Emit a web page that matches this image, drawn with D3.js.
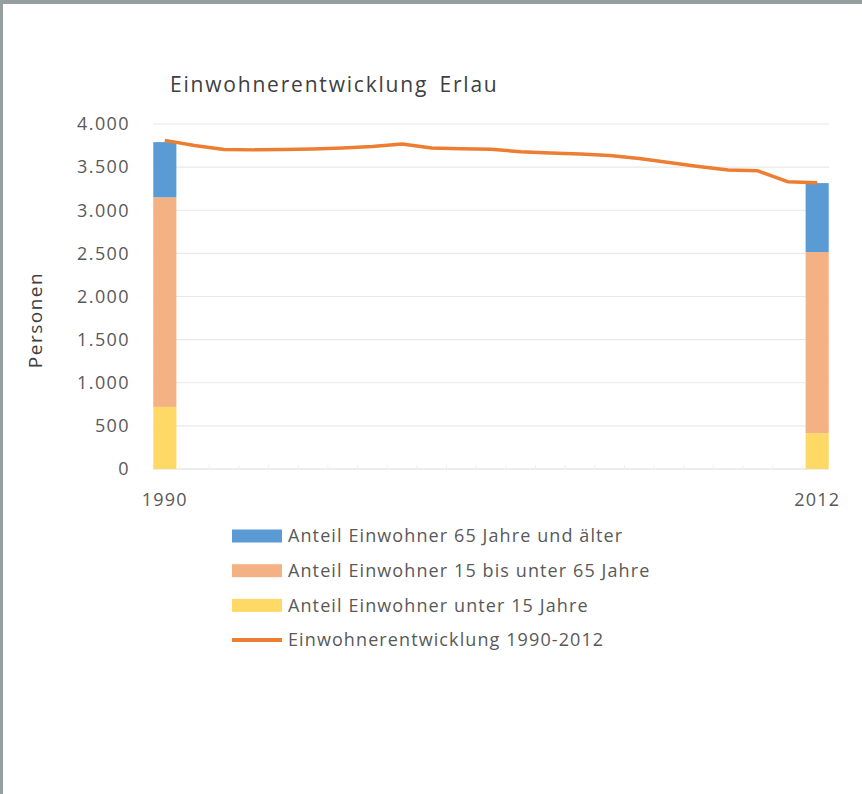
<!DOCTYPE html>
<html>
<head>
<meta charset="utf-8">
<script src="https://cdn.jsdelivr.net/npm/d3@7"></script>
<style>
  html, body { margin: 0; padding: 0; background: #fff; }
  svg text { font-family: "Open Sans", "Noto Sans", sans-serif; }
</style>
</head>
<body>
<script>
const WIDTH = 862;
const HEIGHT = 794;

// years on the category axis
var years = ["1990","1991","1992","1993","1994","1995","1996","1997","1998","1999","2000",
    "2001","2002","2003","2004","2005","2006","2007","2008","2009","2010","2011","2012"];

// total population per year (line)
var total = [3810, 3750, 3705, 3700, 3705, 3710, 3722, 3739, 3768, 3722, 3714,
    3708, 3678, 3664, 3652, 3635, 3600, 3554, 3507, 3467, 3457, 3331, 3320];

// age groups, only shown for first and last year
var barYears = ["1990", "2012"];
var under15 = [720, 415];
var from15to65 = [2430, 2100];
var over65 = [640, 800];

var yTicks = [0, 500, 1000, 1500, 2000, 2500, 3000, 3500, 4000];
var xLabels = ["1990", "2012"];

var seriesNames = [
    "Anteil Einwohner 65 Jahre und älter",
    "Anteil Einwohner 15 bis unter 65 Jahre",
    "Anteil Einwohner unter 15 Jahre",
    "Einwohnerentwicklung 1990-2012"
];
var colors = ["#5b9bd5", "#f4b183", "#ffd966", "#ed7d31"];

var de = d3.formatLocale({decimal: ",", thousands: ".", grouping: [3], currency: ["", " €"]});
var fmt = de.format(",");

var svg = d3.select("body").append("svg")
    .attr("width", WIDTH)
    .attr("height", HEIGHT);

// frame of the screenshot
svg.append("rect").attr("x", 0).attr("y", 0).attr("width", WIDTH).attr("height", 4).attr("fill", "#959f9f");
svg.append("rect").attr("x", 0).attr("y", 0).attr("width", 3).attr("height", HEIGHT).attr("fill", "#959f9f");

var x = d3.scaleBand()
    .domain(years)
    .range([150, 832])
    .paddingInner(0.22)
    .paddingOuter(0.11);

var y = d3.scaleLinear()
    .domain([0, 4000])
    .range([469, 124]);

// gridlines
svg.append("g")
    .selectAll("line")
    .data(yTicks)
    .join("line")
        .attr("x1", 153)
        .attr("x2", 829)
        .attr("y1", d => y(d))
        .attr("y2", d => y(d))
        .attr("stroke", d => d === 0 ? "#dcdcdc" : "#e8e8e8")
        .attr("stroke-width", 1.2);

// faint category ticks between bands
svg.append("g")
    .selectAll("line")
    .data(years.slice(1))
    .join("line")
        .attr("x1", d => x(d) - x.step() * x.paddingInner() / 2)
        .attr("x2", d => x(d) - x.step() * x.paddingInner() / 2)
        .attr("y1", y(0) - 4)
        .attr("y2", y(0))
        .attr("stroke", "#f0f0f0");

// y axis labels
svg.append("g")
    .selectAll("text")
    .data(yTicks)
    .join("text")
        .attr("x", 130)
        .attr("y", d => y(d))
        .attr("dy", "0.35em")
        .attr("text-anchor", "end")
        .attr("font-size", 18)
        .attr("letter-spacing", 1.4)
        .attr("fill", "#595959")
        .text(d => fmt(d));

// x labels
svg.append("g")
    .selectAll("text")
    .data(xLabels)
    .join("text")
        .attr("x", d => x(d) + x.bandwidth() / 2)
        .attr("y", 500)
        .attr("dy", "0.35em")
        .attr("text-anchor", "middle")
        .attr("font-size", 18)
        .attr("letter-spacing", 1.2)
        .attr("fill", "#595959")
        .text(d => d);

// stacked bars
var stackData = barYears.map(function(yr, i) {
    return {year: yr, under15: under15[i], mid: from15to65[i], over65: over65[i]};
});
var stack = d3.stack().keys(["under15", "mid", "over65"]);
var layers = stack(stackData);
var layerColors = [colors[2], colors[1], colors[0]];

svg.append("g")
    .selectAll("g")
    .data(layers)
    .join("g")
        .attr("fill", (d, i) => layerColors[i])
    .selectAll("rect")
    .data(d => d)
    .join("rect")
        .attr("x", d => x(d.data.year))
        .attr("width", x.bandwidth())
        .attr("y", d => y(d[1]))
        .attr("height", d => y(d[0]) - y(d[1]));

// population line
var line = d3.line()
    .x((d, i) => x(years[i]) + x.bandwidth() / 2)
    .y(d => y(d));

svg.append("path")
    .datum(total)
    .attr("d", line)
    .attr("fill", "none")
    .attr("stroke", colors[3])
    .attr("stroke-width", 3.5)
    .attr("stroke-linejoin", "round");

// title
svg.append("text")
    .attr("x", 170)
    .attr("y", 85)
    .attr("dy", "0.35em")
    .attr("font-size", 21)
    .attr("letter-spacing", 1.8)
    .attr("word-spacing", 4)
    .attr("fill", "#404040")
    .text("Einwohnerentwicklung Erlau");

// y axis title
svg.append("text")
    .attr("transform", "translate(35,320) rotate(-90)")
    .attr("dy", "0.35em")
    .attr("text-anchor", "middle")
    .attr("font-size", 19)
    .attr("letter-spacing", 1.5)
    .attr("fill", "#404040")
    .text("Personen");

// legend
var legend = svg.append("g")
    .selectAll("g")
    .data(seriesNames)
    .join("g")
        .attr("transform", (d, i) => "translate(232," + (536 + i * 34.7) + ")");

legend.filter((d, i) => i < 3)
    .append("rect")
        .attr("x", 0)
        .attr("y", -6.5)
        .attr("width", 50)
        .attr("height", 13)
        .attr("fill", (d, i) => colors[i]);

legend.filter((d, i) => i === 3)
    .append("line")
        .attr("x1", 0)
        .attr("x2", 50)
        .attr("stroke", colors[3])
        .attr("stroke-width", 4);

legend.append("text")
    .attr("x", 56)
    .attr("dy", "0.35em")
    .attr("font-size", 18)
    .attr("letter-spacing", 1.1)
    .attr("fill", "#595959")
    .text(d => d);
</script>
</body>
</html>
